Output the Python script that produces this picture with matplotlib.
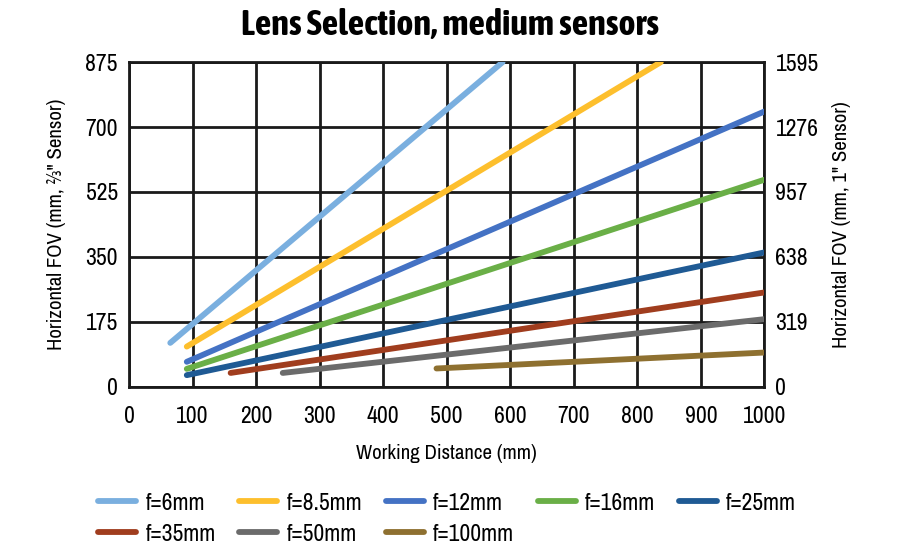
import matplotlib.pyplot as plt
from matplotlib import font_manager

# look for a narrow font; fall back to DejaVu Sans
narrow = [f for f in font_manager.fontManager.ttflist
          if "narrow" in f.name.lower() or "condensed" in f.name.lower()]
narrow_names = sorted(set(f.name for f in narrow))
bold_names = sorted(set(f.name for f in narrow
                        if f.weight in ("bold", "heavy", "black")
                        or (isinstance(f.weight, int) and f.weight >= 600)))
plt.rcParams['font.family'] = narrow_names + ['DejaVu Sans']
title_family = bold_names + narrow_names + ['DejaVu Sans']

# focal lengths and their lines (start / end points)
labels = ["f=6mm", "f=8.5mm", "f=12mm", "f=16mm", "f=25mm",
          "f=35mm", "f=50mm", "f=100mm"]
colors = ["#7aafdf", "#fdbf2d", "#4472c4", "#6aaf47", "#1f5a94",
          "#a03d1e", "#6b6b6b", "#8e7030"]
wd_start = [65, 91, 91, 91, 91, 160, 242, 484]
wd_end = [588, 837, 1000, 1000, 1000, 1000, 1000, 1000]
fov_start = [118, 108, 67, 48, 31, 37, 37, 49]
fov_end = [875, 875, 742, 558, 362, 254, 182, 92]

x_ticks = [0, 100, 200, 300, 400, 500, 600, 700, 800, 900, 1000]
left_ticks = [0, 175, 350, 525, 700, 875]
right_ticks = [0, 319, 638, 957, 1276, 1595]

fig = plt.figure(figsize=(9, 5.5), dpi=100)
ax = fig.add_axes([0.1433, 0.297, 0.706, 0.59])

handles = []
for i in range(len(labels)):
    h, = ax.plot([wd_start[i], wd_end[i]], [fov_start[i], fov_end[i]],
                 color=colors[i], lw=4.2, solid_capstyle="round",
                 label=labels[i], zorder=3)
    handles.append(h)

ax.set_xlim(0, 1000)
ax.set_ylim(0, 875)
ax.set_xticks(x_ticks)
ax.set_yticks(left_ticks)
ax.grid(True, color="#1a1a1a", lw=2)
ax.tick_params(length=0, labelsize=17, pad=8)
ax.tick_params(axis="x", pad=14)
for s in ax.spines.values():
    s.set_color("#1a1a1a")
    s.set_linewidth(2)
ax.set_xlabel("Working Distance (mm)", fontsize=15, labelpad=12)
ax.set_ylabel("Horizontal FOV (mm, ⅔\" Sensor)", fontsize=15, labelpad=14)

ax2 = ax.twinx()
ax2.set_ylim(0, 1595)
ax2.set_yticks(right_ticks)
ax2.tick_params(length=0, labelsize=17, pad=8)
for s in ax2.spines.values():
    s.set_visible(False)
ax2.set_ylabel("Horizontal FOV (mm, 1\" Sensor)", fontsize=15, labelpad=10)

fig.suptitle("Lens Selection, medium sensors", fontsize=26,
             fontweight="bold", family=title_family, y=0.985)

# legend filled row by row like the reference
order = [0, 5, 1, 6, 2, 7, 3, 4]
fig.legend([handles[i] for i in order], [labels[i] for i in order],
           loc="upper center", bbox_to_anchor=(0.497, 0.143), ncol=5,
           frameon=False, fontsize=17, handlelength=1.6,
           handletextpad=0.4, columnspacing=1.0, labelspacing=0.42)

plt.savefig("out.png", dpi=100)
